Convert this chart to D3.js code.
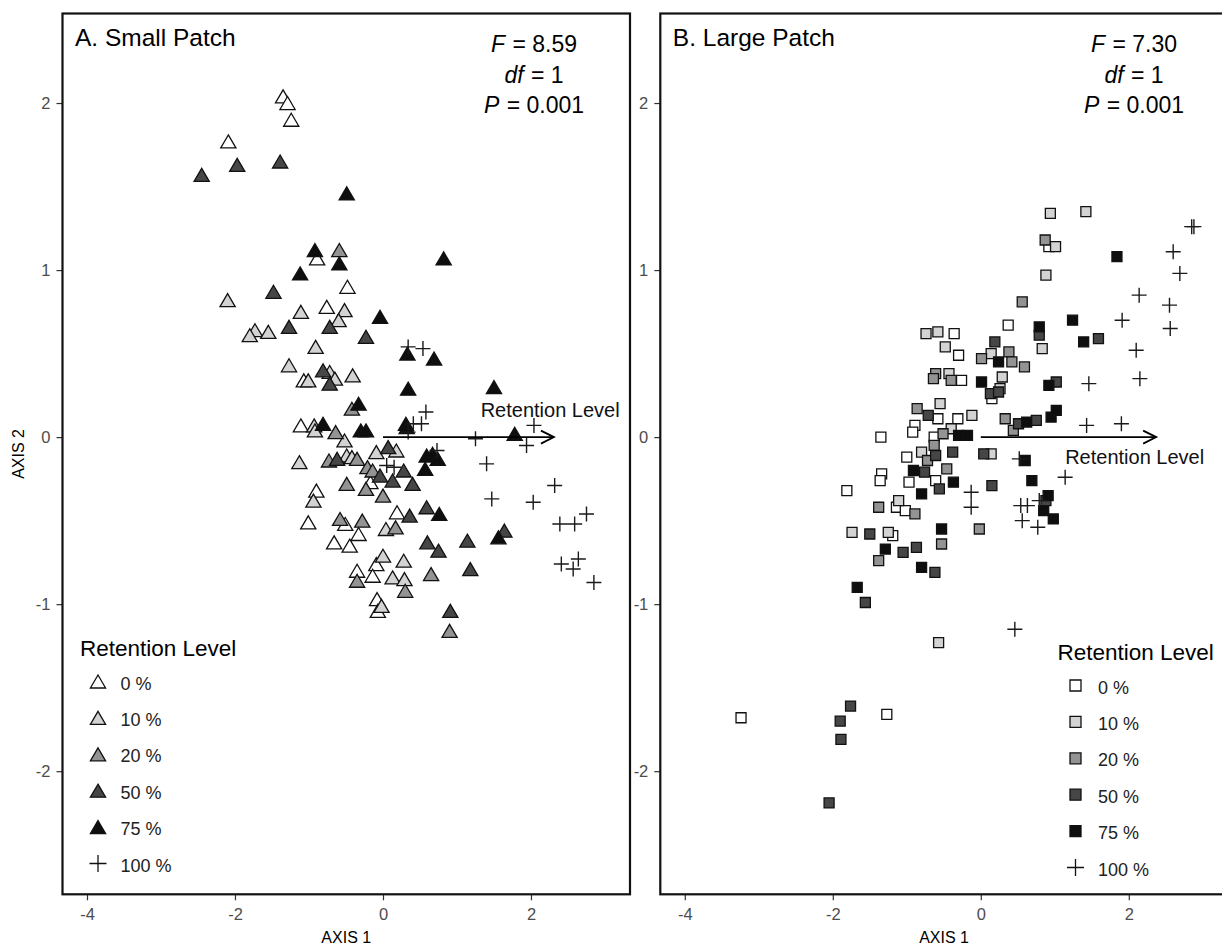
<!DOCTYPE html>
<html>
<head>
<meta charset="utf-8">
<script src="https://cdn.jsdelivr.net/npm/d3@7"></script>
<style>
  body { margin: 0; background: #fff; }
  text { font-family: "Liberation Sans", Arial, Helvetica, sans-serif; }
</style>
</head>
<body>
<div id="chart"></div>
<script>
// Legend levels and axis ticks
const levels = ["0 %", "10 %", "20 %", "50 %", "75 %", "100 %"];
const ticksAxis1 = [-4, -2, 0, 2];
const ticksAxis2 = [-2, -1, 0, 1, 2];
const rangeAxis1 = [-4.331, 3.338];
const rangeAxis2 = [-2.737, 2.536];

// A. Small Patch ordination scores [AXIS 1, AXIS 2]
const small0 = [[-1.35,2.04],[-1.29,2.00],[-1.24,1.90],[-2.09,1.77],[-0.89,1.07],[-0.48,0.90],[-0.76,0.78],
  [-1.07,0.34],[-1.11,0.07],[-0.17,-0.27],[-0.90,-0.32],[-1.01,-0.51],[-0.51,-0.52],[0.19,-0.45],[-0.33,-0.58],
  [-0.66,-0.63],[-0.45,-0.65],[-0.09,-0.76],[-0.35,-0.80],[-0.14,-0.83],[-0.08,-0.97],[-0.07,-1.04]];
const small10 = [[-2.10,0.82],[-1.11,0.75],[-0.52,0.76],[-0.60,0.70],[-1.73,0.64],[-1.80,0.61],[-1.55,0.63],
  [-0.91,0.54],[-1.27,0.43],[-0.72,0.39],[-0.65,0.35],[-1.01,0.34],[-0.41,0.37],[-0.93,0.07],[-0.92,0.04],
  [-0.52,-0.02],[-0.09,-0.09],[0.18,-0.08],[-1.13,-0.15],[-0.49,-0.11],[-0.42,-0.12],[-0.94,-0.38],
  [0.04,-0.55],[0.00,-0.71],[0.28,-0.74],[0.13,-0.84],[0.29,-0.85],[-0.02,-1.01]];
const small20 = [[-0.59,1.12],[-0.42,0.17],[-0.35,-0.13],[-0.21,-0.18],[-0.49,-0.28],[-0.23,-0.31],[0.00,-0.35],
  [-0.28,-0.50],[0.17,-0.54],[-0.58,-0.49],[-0.35,-0.86],[0.30,-0.92],[0.65,-0.82],[0.90,-1.16],
  [-0.73,-0.14],[-0.14,-0.20],[-0.64,0.03]];
const small50 = [[-1.97,1.63],[-1.39,1.65],[-2.45,1.57],[-1.48,0.87],[-0.72,0.66],[-1.27,0.66],[-0.23,0.60],
  [-0.81,0.40],[-0.72,0.32],[0.07,-0.06],[-0.62,-0.13],[-0.04,-0.23],[0.13,-0.26],[0.40,-0.28],[0.28,-0.20],
  [0.36,-0.47],[0.59,-0.42],[0.60,-0.63],[0.75,-0.68],[1.14,-0.62],[1.64,-0.56],[1.18,-0.79],[0.91,-1.04]];
const small75 = [[-0.49,1.46],[-0.92,1.12],[-0.59,1.04],[0.82,1.07],[-1.12,0.98],[-0.04,0.72],[0.33,0.50],
  [0.69,0.47],[0.34,0.29],[1.50,0.30],[-0.33,0.20],[-0.81,0.08],[-0.30,0.04],[-0.23,0.04],[0.31,0.08],
  [0.32,0.06],[1.78,0.02],[0.59,-0.11],[0.67,-0.10],[0.74,-0.13],[0.57,-0.19],[0.76,-0.46],[1.56,-0.60]];
const small100 = [[0.34,0.54],[0.54,0.53],[0.58,0.15],[0.41,0.08],[0.52,0.08],[0.34,0.03],[1.25,-0.01],
  [2.04,0.07],[1.94,-0.05],[0.73,-0.08],[0.05,-0.17],[0.15,-0.18],[1.40,-0.16],[1.47,-0.37],[2.03,-0.39],
  [2.32,-0.29],[2.39,-0.52],[2.59,-0.52],[2.75,-0.46],[2.41,-0.76],[2.64,-0.73],[2.57,-0.79],[2.85,-0.87]];

// B. Large Patch ordination scores [AXIS 1, AXIS 2]
const large0 = [[0.92,1.14],[0.37,0.67],[-0.36,0.62],[-0.30,0.49],[-0.26,0.34],[0.15,0.23],[-0.58,0.11],
  [-0.31,0.11],[-0.89,0.07],[-0.92,0.03],[-1.35,0.00],[-0.63,0.00],[-1.00,-0.12],[-1.34,-0.22],[-1.36,-0.26],
  [-0.97,-0.27],[-0.61,-0.26],[-1.81,-0.32],[-1.14,-0.42],[-1.02,-0.44],[-1.19,-0.59],[-3.24,-1.68],[-1.27,-1.66]];
const large10 = [[0.94,1.34],[1.42,1.35],[1.01,1.14],[0.88,0.97],[-0.74,0.62],[-0.58,0.63],[-0.48,0.54],
  [0.14,0.50],[0.83,0.53],[-0.43,0.38],[0.29,0.36],[0.26,0.29],[-0.55,0.20],[-0.12,0.13],[-0.40,0.05],
  [-0.80,-0.09],[0.14,-0.10],[-1.11,-0.38],[-1.74,-0.57],[-1.25,-0.57],[-0.57,-1.23]];
const large20 = [[0.87,1.18],[0.56,0.81],[0.01,0.47],[0.38,0.51],[0.42,0.45],[0.59,0.42],[-0.61,0.38],
  [-0.64,0.35],[-0.40,0.34],[-0.86,0.17],[0.33,0.11],[0.44,0.04],[-0.51,0.02],[-0.63,-0.05],[-0.72,-0.14],
  [-0.46,-0.19],[-1.38,-0.42],[-0.89,-0.46],[-0.02,-0.55],[-0.53,-0.64],[-1.38,-0.74]];
const large50 = [[0.79,0.61],[1.59,0.59],[0.19,0.57],[0.13,0.26],[0.24,0.27],[1.02,0.33],[-0.71,0.13],
  [0.51,0.08],[0.75,0.10],[-0.61,-0.11],[-0.38,-0.09],[0.04,-0.10],[-0.76,-0.21],[-0.56,-0.31],[0.15,-0.29],
  [0.88,-0.38],[-1.50,-0.58],[-1.05,-0.69],[-0.87,-0.66],[-0.62,-0.81],[-1.56,-0.99],[-1.76,-1.61],
  [-1.90,-1.70],[-1.89,-1.81],[-2.05,-2.19]];
const large75 = [[1.84,1.08],[0.79,0.66],[1.24,0.70],[1.39,0.57],[0.24,0.45],[0.01,0.33],[0.92,0.31],
  [0.62,0.09],[0.95,0.12],[1.02,0.16],[-0.30,0.01],[-0.18,0.01],[0.60,-0.14],[-0.91,-0.20],[-0.37,-0.27],
  [-0.80,-0.34],[0.69,-0.26],[0.91,-0.35],[0.85,-0.44],[0.98,-0.49],[-0.53,-0.55],[-1.29,-0.67],
  [-0.80,-0.78],[-1.67,-0.90]];
const large100 = [[2.85,1.26],[2.88,1.26],[2.60,1.11],[2.69,0.98],[2.14,0.85],[2.55,0.79],[1.91,0.70],
  [2.56,0.65],[2.10,0.52],[2.15,0.35],[1.46,0.32],[1.43,0.07],[1.90,0.08],[1.14,-0.24],[0.52,-0.13],
  [-0.13,-0.33],[-0.13,-0.42],[0.54,-0.41],[0.63,-0.41],[0.79,-0.38],[0.56,-0.50],[0.77,-0.54],[0.46,-1.15]];

// PERMANOVA results: F, df, P
const smallStats = ["8.59", "1", "0.001"];
const largeStats = ["7.30", "1", "0.001"];

// Fitted retention vector (end point)
const smallVector = [2.31, 0];
const largeVector = [2.37, 0];

// Greyscale fills per retention level
const levelFill = ["#ffffff", "#d3d3d3", "#939393", "#464646", "#0e0e0e", "none"];

document.addEventListener("DOMContentLoaded", function() {
    const svg = d3.select("#chart").append("svg")
        .attr("width", 1222)
        .attr("height", 946);

    svg.append("rect")
        .attr("width", 1222)
        .attr("height", 946)
        .attr("fill", "#fff");

    const panelTop = 13.5,
          panelWidth = 567.5,
          panelHeight = 880.8;

    const panels = [
        {
            left: 62.5, title: "A. Small Patch", shape: "triangle",
            series: [small0, small10, small20, small50, small75, small100],
            stats: smallStats, statsX: 471.5,
            vector: smallVector, vectorLabel: [1.32, 0.12],
            legendX: 17.5, legendY: 642.5, yTitle: true
        },
        {
            left: 660.3, title: "B. Large Patch", shape: "square",
            series: [large0, large10, large20, large50, large75, large100],
            stats: largeStats, statsX: 473.7,
            vector: largeVector, vectorLabel: [1.14, -0.16],
            legendX: 397.2, legendY: 646.5, yTitle: false
        }
    ];

    // Marker paths, centred on the score
    function markPath(shape, level, big) {
        if (level === 5) {
            const c = big ? 8.5 : 7.5;
            return `M${-c},0H${c}M0,${-c}V${c}`;
        }
        if (shape === "triangle") return "M0,-6.5L7.6,6.5L-7.6,6.5Z";
        const s = big ? 5.5 : 5;
        return `M${-s},${-s}H${s}V${s}H${-s}Z`;
    }

    panels.forEach(p => {
        const g = svg.append("g")
            .attr("transform", `translate(${p.left},${panelTop})`);

        const x = d3.scaleLinear().domain(rangeAxis1).range([0, panelWidth]);
        const y = d3.scaleLinear().domain(rangeAxis2).range([panelHeight, 0]);

        // Axes
        const xAxis = g.append("g")
            .attr("transform", `translate(0,${panelHeight})`)
            .call(d3.axisBottom(x).tickValues(ticksAxis1).tickSize(6).tickPadding(8).tickFormat(d3.format("d")));
        const yAxis = g.append("g")
            .call(d3.axisLeft(y).tickValues(ticksAxis2).tickSize(6).tickPadding(6).tickFormat(d3.format("d")));

        [xAxis, yAxis].forEach(a => {
            a.select(".domain").remove();
            a.selectAll(".tick line").attr("stroke", "#333").attr("stroke-width", 1.2);
            a.selectAll(".tick text")
                .attr("fill", "#4d4d4d")
                .style("font-size", "16.5px")
                .style("font-family", '"Liberation Sans", Arial, sans-serif')
                .text(d => d < 0 ? "-" + Math.abs(d) : d);
        });

        // Points, one layer per retention level
        p.series.forEach((pts, level) => {
            g.append("g").selectAll("path")
                .data(pts)
                .enter()
                .append("path")
                .attr("transform", d => `translate(${x(d[0])},${y(d[1])})`)
                .attr("d", markPath(p.shape, level, false))
                .attr("fill", levelFill[level])
                .attr("stroke", level === 5 ? "#1a1a1a" : "#111")
                .attr("stroke-width", level === 5 ? 1.4 : 1.3)
                .attr("stroke-linejoin", "miter");
        });

        // Retention vector
        const x0 = x(0), y0 = y(0), x1 = x(p.vector[0]), y1 = y(p.vector[1]);
        g.append("line")
            .attr("x1", x0).attr("y1", y0)
            .attr("x2", x1).attr("y2", y1)
            .attr("stroke", "#000")
            .attr("stroke-width", 1.8);
        g.append("path")
            .attr("d", `M${x1 - 13},${y1 - 6.5}L${x1},${y1}L${x1 - 13},${y1 + 6.5}`)
            .attr("fill", "none")
            .attr("stroke", "#000")
            .attr("stroke-width", 1.8);
        g.append("text")
            .attr("x", x(p.vectorLabel[0]))
            .attr("y", y(p.vectorLabel[1]))
            .style("font-size", "20px")
            .attr("fill", "#111")
            .text("Retention Level");

        // Panel title
        g.append("text")
            .attr("x", 12.5)
            .attr("y", 32.5)
            .style("font-size", "24.5px")
            .attr("fill", "#000")
            .text(p.title);

        // Test statistics
        const statNames = ["F", "df", "P"];
        statNames.forEach((nm, i) => {
            const t = g.append("text")
                .attr("x", p.statsX)
                .attr("y", 38.5 + i * 30.5)
                .attr("text-anchor", "middle")
                .style("font-size", "23px")
                .attr("fill", "#000");
            t.append("tspan").style("font-style", "italic").text(nm);
            t.append("tspan").attr("dx", 1).text(" = " + p.stats[i]);
        });

        // Legend
        const lg = g.append("g")
            .attr("transform", `translate(${p.legendX},${p.legendY})`);
        lg.append("text")
            .style("font-size", "22.5px")
            .attr("fill", "#000")
            .text("Retention Level");
        const rows = lg.selectAll(".row")
            .data(levels)
            .enter()
            .append("g")
            .attr("class", "row")
            .attr("transform", (d, i) => `translate(18,${25.5 + i * 36.4})`);
        rows.append("path")
            .attr("d", (d, i) => markPath(p.shape, i, true))
            .attr("fill", (d, i) => levelFill[i])
            .attr("stroke", "#111")
            .attr("stroke-width", 1.3);
        rows.append("text")
            .attr("x", 22.5)
            .attr("y", 8)
            .style("font-size", "18px")
            .attr("fill", "#222")
            .text(d => d);

        // Axis titles
        g.append("text")
            .attr("x", panelWidth / 2)
            .attr("y", panelHeight + 49)
            .attr("text-anchor", "middle")
            .style("font-size", "16px")
            .attr("fill", "#000")
            .text("AXIS 1");
        if (p.yTitle) {
            g.append("text")
                .attr("transform", `translate(-39,${panelHeight / 2}) rotate(-90)`)
                .attr("text-anchor", "middle")
                .style("font-size", "16px")
                .attr("fill", "#000")
                .text("AXIS 2");
        }

        // Panel border
        g.append("rect")
            .attr("width", panelWidth)
            .attr("height", panelHeight)
            .attr("fill", "none")
            .attr("stroke", "#111")
            .attr("stroke-width", 2.2);
    });
});
</script>
</body>
</html>
